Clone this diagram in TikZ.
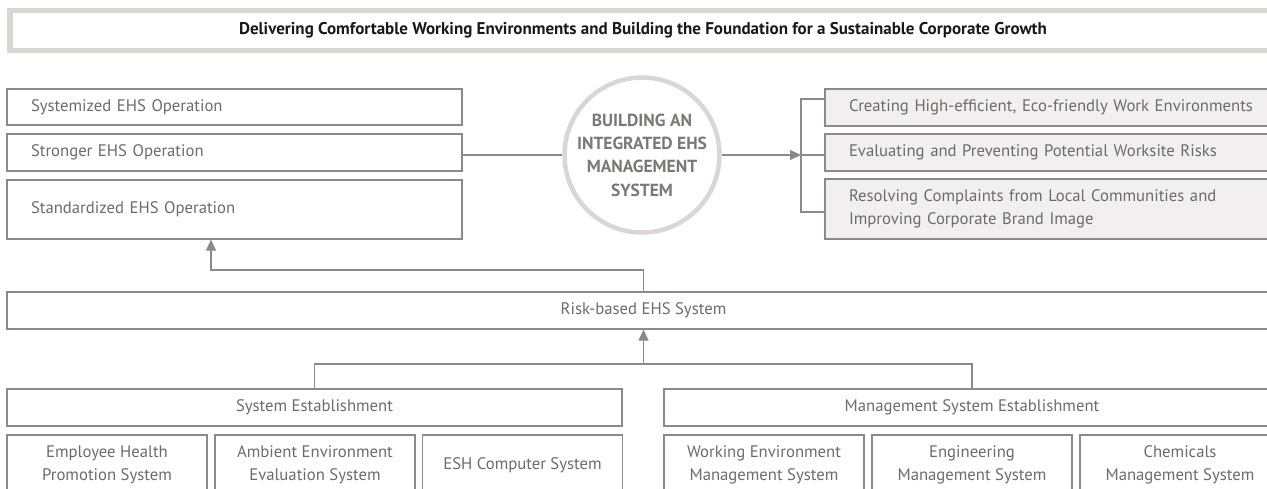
\documentclass[tikz,border=0pt]{standalone}
\usepackage{fontspec}
\setmainfont{PT Sans}
\usetikzlibrary{arrows.meta, positioning}
\definecolor{framegray}{HTML}{DBD6D6}
\definecolor{linegray}{HTML}{8E8989}
\definecolor{txtgray}{HTML}{6E6A6A}
\definecolor{circgray}{HTML}{7D7878}
\definecolor{fillgray}{HTML}{F1EFEF}

\tikzset{
  ehsbox/.style={draw=linegray, line width=1.2pt, text=txtgray, inner xsep=0pt, inner ysep=0pt,
    align=center, font=\fontsize{16.7}{23.5}\selectfont},
  sidebox/.style={ehsbox, minimum width=455pt, inner xsep=24pt, text width=407pt, align=left},
  goalbox/.style={sidebox, fill=fillgray},
  subbox/.style={ehsbox, minimum width=200pt, minimum height=60pt},
  link/.style={draw=linegray, line width=1.2pt},
  linkarrow/.style={link, -{Triangle[length=11pt,width=10pt]}},
}

\begin{document}
\begin{tikzpicture}[x=1pt, y=-1pt]
    \useasboundingbox (0,0) rectangle (1267,488);
    \clip (0,0) rectangle (1267,488);

    % Banner across the top
    \node[draw=framegray, line width=5.5pt, minimum width=1266pt, minimum height=40pt,
          font=\bfseries\fontsize{17}{20}\selectfont, text=black!90] (title) at (643,30.5)
          {Delivering Comfortable Working Environments and Building the Foundation for a Sustainable Corporate Growth};

    % Left column (operations)
    \node[sidebox, minimum height=36pt] (systemized) at (234.5,107) {Systemized EHS Operation};
    \node[sidebox, minimum height=37pt] (stronger) at (234.5,152.5) {Stronger EHS Operation};
    \node[sidebox, minimum height=59pt] (standard) at (234.5,209.5) {Standardized EHS Operation};

    % Core circle
    \node[circle, draw=framegray, line width=4.5pt, fill=white, minimum size=155pt, inner sep=0pt,
          text=circgray, align=center, font=\bfseries\fontsize{17.5}{23.3}\selectfont] (core) at (642,155)
          {BUILDING AN\\INTEGRATED EHS\\MANAGEMENT\\SYSTEM};

    % Right column (goals)
    \node[goalbox, minimum height=37pt] (creating) at (1052.5,107.5) {Creating High-efficient, Eco-friendly Work Environments};
    \node[goalbox, minimum height=37pt] (evaluating) at (1052.5,152.5) {Evaluating and Preventing Potential Worksite Risks};
    \node[goalbox, minimum height=60pt] (resolving) at (1052.5,209) {Resolving Complaints from Local Communities and\\Improving Corporate Brand Image};

    % Risk-based system bar
    \node[ehsbox, minimum width=1273pt, minimum height=37pt] (risk) at (643.5,310.5) {Risk-based EHS System};

    % Establishment bars
    \node[ehsbox, minimum width=615pt, minimum height=37pt] (sysest) at (314.5,407.5) {System Establishment};
    \node[ehsbox, minimum width=616pt, minimum height=37pt] (mgmtest) at (972,407.5) {Management System Establishment};

    % Sub-systems
    \node[subbox] (health) at (107,465) {Employee Health\\Promotion System};
    \node[subbox] (ambient) at (315,465) {Ambient Environment\\Evaluation System};
    \node[subbox] (esh) at (522.5,465) {ESH Computer System};
    \node[subbox] (working) at (764,465) {Working Environment\\Management System};
    \node[subbox] (engineering) at (972,465) {Engineering\\Management System};
    \node[subbox] (chemicals) at (1180,465) {Chemicals\\Management System};

    % Connectors around the circle
    \coordinate (fork) at (801,155);
    \coordinate (forktop) at (801,99);
    \coordinate (forkbot) at (801,212);
    \draw[link] (stronger.east |- core.west) -- (core.west);
    \draw[linkarrow] (core.east) -- (fork);
    \draw[link] (forktop -| creating.west) -- (forktop) -- (forkbot) -- (forkbot -| resolving.west);
    \draw[link] (fork) -- (fork -| evaluating.west);

    % Risk-based up to the operations
    \coordinate (bend) at (211,270);
    \draw[linkarrow] (risk.north) |- (bend) -- (bend |- standard.south);

    % Establishments up to risk-based
    \coordinate (joint) at (643.5,364);
    \draw[link] (sysest.north) |- (joint) -| (mgmtest.north);
    \draw[linkarrow] (joint) -- (risk.south);
\end{tikzpicture}
\end{document}
